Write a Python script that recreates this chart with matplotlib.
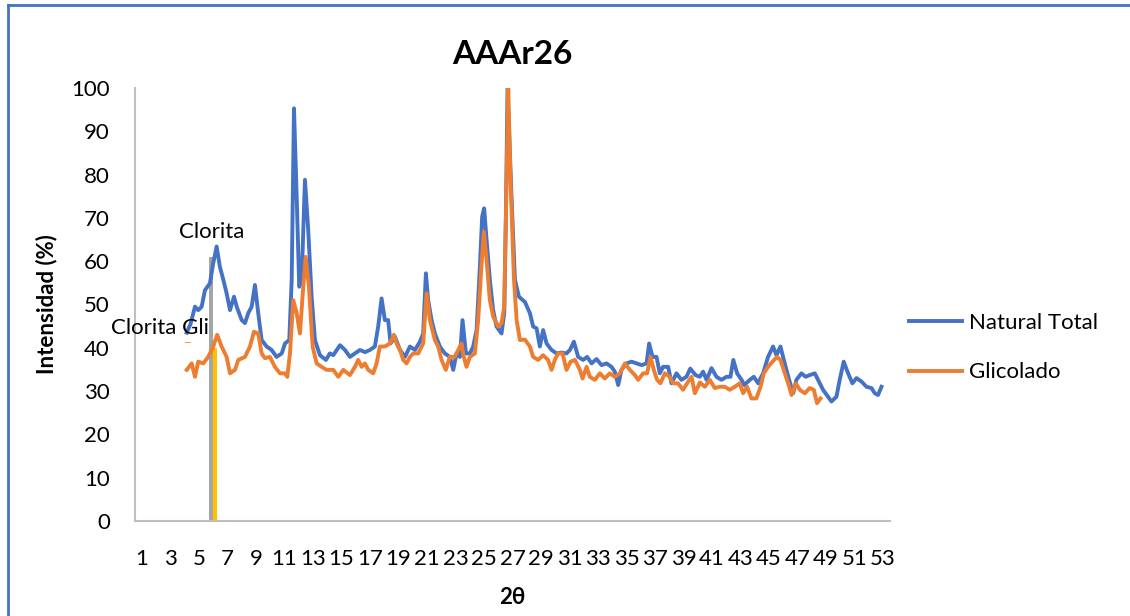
import numpy as np
import matplotlib
matplotlib.use("Agg")
import matplotlib.pyplot as plt
from matplotlib.lines import Line2D

plt.rcParams['font.family'] = ['Lato', 'DejaVu Sans']

# ----------------------------
# Datos
# ----------------------------
natural_x = [4.13, 4.4, 4.71, 4.94, 5.18, 5.41, 5.76, 5.99, 6.23, 6.46, 6.7, 6.93, 7.17, 7.45,
             7.64, 7.99, 8.22, 8.45, 8.69, 8.92, 9.15, 9.39, 9.74, 10.09, 10.44, 10.8, 11.03,
             11.33, 11.5, 11.66, 11.85, 12.03, 12.2, 12.43, 12.66, 12.9, 13.13, 13.48, 13.9,
             14.18, 14.42, 14.89, 15.24, 15.59, 15.94, 16.29, 16.64, 16.99, 17.34, 17.57, 17.81,
             18.04, 18.27, 18.44, 18.74, 19.1, 19.45, 19.8, 20.15, 20.5, 20.73, 20.92, 21.08,
             21.32, 21.55, 21.9, 22.25, 22.6, 22.84, 23.07, 23.31, 23.49, 23.73, 24.01, 24.24,
             24.48, 24.71, 24.87, 25.01, 25.18, 25.41, 25.64, 25.88, 26.23, 26.42, 26.54, 26.65,
             26.93, 27.17, 27.45, 27.87, 28.22, 28.45, 28.69, 28.92, 29.15, 29.39, 29.74, 30.09,
             30.44, 30.79, 31.03, 31.31, 31.61, 31.96, 32.24, 32.55, 32.9, 33.25, 33.6, 33.95,
             34.18, 34.42, 34.65, 35.0, 35.36, 35.71, 36.06, 36.41, 36.59, 36.83, 37.11, 37.34,
             37.57, 37.93, 38.16, 38.51, 38.86, 39.21, 39.48, 39.85, 40.15, 40.38, 40.62, 40.97,
             41.32, 41.67, 42.02, 42.3, 42.5, 42.77, 43.08, 43.27, 43.66, 43.94, 44.24, 44.59,
             44.94, 45.29, 45.53, 45.81, 46.11, 46.42, 46.7, 46.93, 47.28, 47.58, 47.86, 48.22,
             48.57, 48.8, 49.15, 49.39, 49.74, 49.97, 50.25, 50.56, 50.86, 51.15, 51.5, 51.85,
             52.2, 52.43, 52.66, 52.9]
natural_y = [43.5, 45.5, 49.5, 48.7, 49.5, 53.3, 54.9, 59.5, 63.4, 58.7, 55.7, 52.6, 48.7, 51.8,
             49.5, 46.4, 45.7, 48.0, 49.5, 54.5, 48.0, 41.8, 40.3, 39.5, 37.9, 38.7, 41.0,
             41.8, 55.7, 95.3, 74.9, 54.1, 55.7, 78.8, 67.2, 51.8, 41.8, 38.3, 37.2,
             38.7, 38.3, 40.6, 39.5, 37.9, 38.7, 39.5, 39.0, 39.5, 40.3, 44.9, 51.4,
             46.4, 46.4, 41.0, 42.6, 39.5, 37.9, 40.3, 39.5, 41.4, 43.3, 57.2, 51.0,
             46.4, 43.3, 40.3, 38.7, 37.9, 34.9, 38.7, 37.9, 46.4, 38.7, 38.7, 40.3,
             44.1, 58.7, 70.3, 72.2, 64.9, 55.7, 48.7, 44.9, 43.3, 48.0, 71.0, 100.0,
             74.9, 55.7, 51.8, 50.6, 48.0, 44.9, 44.5, 40.3, 44.1, 41.0, 39.5, 38.7,
             38.9, 38.7, 39.5, 41.4, 37.9, 37.2, 37.9, 36.4, 37.4, 36.0, 36.4, 35.6,
             34.5, 31.4, 34.9, 36.4, 36.8, 36.4, 36.0, 36.4, 41.0, 37.9, 37.9, 34.1,
             35.6, 35.6, 31.8, 34.1, 32.6, 33.3, 35.2, 33.7, 33.3, 34.5, 32.6, 35.3,
             33.3, 32.6, 33.3, 33.3, 37.2, 34.1, 32.6, 31.4, 32.6, 33.3, 31.8, 34.1,
             37.9, 40.3, 38.3, 40.3, 36.4, 32.6, 29.5, 32.6, 34.1, 33.3, 33.7, 34.1,
             31.8, 30.3, 28.7, 27.6, 28.7, 32.6, 36.8, 34.1, 31.8, 33.0, 32.2, 31.0,
             30.7, 29.5, 29.1, 31.0]

glicolado_x = [4.13, 4.48, 4.71, 4.94, 5.29, 5.64, 5.99, 6.27, 6.58, 6.93, 7.17, 7.52, 7.75,
               8.22, 8.57, 8.85, 9.15, 9.39, 9.62, 9.97, 10.32, 10.68, 11.03, 11.19, 11.38,
               11.61, 11.85, 12.08, 12.31, 12.48, 12.71, 12.97, 13.25, 13.6, 13.95, 14.42,
               14.77, 15.12, 15.59, 15.94, 16.17, 16.41, 16.64, 16.87, 17.22, 17.46, 17.69,
               18.04, 18.39, 18.67, 18.86, 19.1, 19.33, 19.57, 19.8, 20.03, 20.38, 20.73,
               20.97, 21.2, 21.55, 21.78, 22.02, 22.32, 22.6, 22.95, 23.19, 23.42, 23.58,
               23.77, 24.01, 24.36, 24.59, 24.83, 24.99, 25.18, 25.41, 25.64, 26.0, 26.23,
               26.42, 26.54, 26.7, 26.85, 27.1, 27.29, 27.52, 27.87, 28.22, 28.45, 28.8,
               29.15, 29.5, 29.74, 29.97, 30.2, 30.51, 30.79, 31.08, 31.38, 31.73, 31.92,
               32.2, 32.43, 32.78, 33.13, 33.48, 33.83, 34.18, 34.54, 34.89, 35.24, 35.59,
               35.82, 36.17, 36.45, 36.69, 36.92, 37.15, 37.39, 37.69, 38.04, 38.27, 38.62,
               38.97, 39.26, 39.57, 39.8, 40.15, 40.5, 40.85, 41.2, 41.55, 41.9, 42.25, 42.6,
               42.95, 43.19, 43.47, 43.77, 44.12, 44.41, 44.64, 44.94, 45.25, 45.57, 45.81,
               46.04, 46.35, 46.59, 46.89, 47.17, 47.52, 47.86, 48.15, 48.38, 48.62]
glicolado_y = [34.9, 36.4, 33.3, 36.8, 36.4, 37.9, 40.3, 43.0, 40.3, 37.9, 34.1, 34.9, 37.2,
               37.9, 40.3, 43.7, 43.3, 38.7, 37.6, 37.9, 35.6, 34.1, 34.1, 33.3, 38.7,
               51.0, 48.0, 43.3, 54.1, 61.0, 54.1, 40.3, 36.4, 35.6, 34.9, 34.9,
               33.3, 34.9, 33.7, 35.6, 37.2, 35.6, 36.4, 34.9, 34.1, 36.4, 40.3,
               40.3, 41.0, 43.0, 41.0, 39.5, 37.2, 36.4, 37.9, 38.7, 38.7, 41.0,
               52.6, 46.4, 41.8, 40.3, 37.2, 34.9, 37.9, 37.9, 39.5, 41.0, 37.9,
               35.6, 37.9, 38.7, 46.4, 59.5, 66.8, 60.3, 51.0, 47.2, 44.9, 45.7,
               49.5, 71.0, 100.0, 80.0, 56.0, 46.4, 41.8, 41.9, 40.3, 37.9, 37.2,
               38.3, 37.2, 34.9, 37.2, 38.7, 38.7, 34.9, 36.8, 37.2, 34.9, 32.9,
               35.6, 33.3, 32.6, 34.1, 32.9, 34.1, 33.3, 34.1, 36.4, 34.9, 33.7,
               32.6, 34.1, 34.1, 37.9, 34.9, 32.6, 31.8, 34.1, 33.3, 31.8, 31.8,
               30.3, 31.8, 33.3, 29.5, 32.0, 31.0, 32.6, 30.7, 31.0, 31.0, 30.3, 31.0,
               31.8, 29.5, 31.0, 28.3, 28.3, 31.0, 34.1, 35.6, 36.8, 37.9, 37.2,
               34.9, 31.8, 29.1, 31.8, 30.3, 29.5, 30.7, 30.3, 27.2, 28.3]

bar_cat = [6]
clorita = [61]
clorita_gli = [40]

xticks = list(range(1, 54, 2))

# ----------------------------
# Figura
# ----------------------------
fig = plt.figure(figsize=(11.3, 6.16), dpi=100)
ax = fig.add_axes([135 / 1130, 95 / 616, 755 / 1130, 433 / 616])

blue = "#4472C4"
orange = "#ED7D31"

ax.plot(natural_x, natural_y, color=blue, lw=2.8, label="Natural Total", solid_joinstyle="round")
ax.plot(glicolado_x, glicolado_y, color=orange, lw=2.8, label="Glicolado", solid_joinstyle="round")

w = 0.28
bx = np.array(bar_cat, dtype=float)
ax.bar(bx - w / 2, clorita, width=w, color="#A5A5A5", zorder=1)
ax.bar(bx + w / 2, clorita_gli, width=w, color="#FFC000", zorder=1)

# etiquetas de datos
ax.annotate("Clorita", (bx[0] - w / 2, clorita[0]), xytext=(0, 18), textcoords="offset points",
            ha="center", va="center", fontsize=16)
ax.annotate("Clorita Gli", (bx[0] + w / 2, clorita_gli[0]), xytext=(-40, 14),
            textcoords="offset points", ha="center", va="center", fontsize=16)
ax.annotate("\u2014", (bx[0] + w / 2, clorita_gli[0]), xytext=(-20, 4),
            textcoords="offset points", ha="center", va="center", fontsize=7, color=orange)

ax.set_xlim(0.5, 53.5)
ax.set_ylim(0, 100)
ax.set_yticks(range(0, 101, 10))
ax.set_xticks(xticks)
ax.tick_params(axis="y", length=0, pad=18, labelsize=16)
ax.tick_params(axis="x", length=0, pad=20, labelsize=16)

for s in ["top", "right"]:
    ax.spines[s].set_visible(False)
for s in ["left", "bottom"]:
    ax.spines[s].set_color("#BFBFBF")
    ax.spines[s].set_linewidth(1.5)

ax.set_title("AAAr26", fontsize=24, fontweight="bold", pad=17)
ax.set_ylabel("Intensidad (%)", fontsize=16, fontweight="bold", labelpad=10)
ax.set_xlabel("2\u03b8", fontsize=16, fontweight="bold", labelpad=13)

leg = ax.legend(loc="upper left", bbox_to_anchor=(909 / 1130, 1 - 313 / 616),
                bbox_transform=fig.transFigure, frameon=False, fontsize=16,
                handlelength=2.4, handletextpad=0.3, labelspacing=1.32,
                borderpad=0, borderaxespad=0)

# borde del area del grafico
fig.add_artist(Line2D([8 / 1130, 8 / 1130], [0, 1 - 5 / 616], color=blue, lw=2))
fig.add_artist(Line2D([8 / 1130, 1], [1 - 5 / 616, 1 - 5 / 616], color=blue, lw=2))

fig.savefig("out.png", dpi=100)
